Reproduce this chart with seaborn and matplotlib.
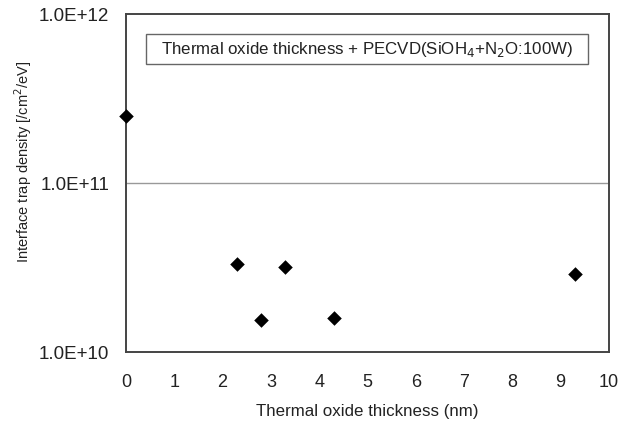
import matplotlib
matplotlib.use("Agg")
import matplotlib.pyplot as plt
import seaborn as sns
import pandas as pd
from matplotlib.patches import Rectangle
from matplotlib.ticker import FixedLocator, FixedFormatter, NullLocator

thickness = [0.0, 2.3, 2.8, 3.3, 4.3, 9.3]
dit = [2.5e11, 3.3e10, 1.55e10, 3.2e10, 1.6e10, 2.9e10]
y_ticks = [1e10, 1e11, 1e12]
y_labels = ["1.0E+10", "1.0E+11", "1.0E+12"]
x_ticks = list(range(0, 11))
x_labels = [str(v) for v in x_ticks]

sns.set_theme(style="white")
plt.rcParams['font.family'] = ['Liberation Sans', 'DejaVu Sans']

df = pd.DataFrame({"t": thickness, "d": dit})

fig = plt.figure(figsize=(6.26, 4.23), dpi=100)
ax = fig.add_axes([0.2013, 0.1678, 0.7715, 0.7991])

sns.scatterplot(data=df, x="t", y="d", marker="D", color="black", s=55,
                edgecolor="black", linewidth=0, ax=ax, clip_on=False, zorder=5)

ax.set_yscale("log")
ax.set_ylim(1e10, 1e12)
ax.set_xlim(0, 10)
ax.yaxis.set_major_locator(FixedLocator(y_ticks))
ax.yaxis.set_major_formatter(FixedFormatter(y_labels))
ax.yaxis.set_minor_locator(NullLocator())
ax.xaxis.set_major_locator(FixedLocator(x_ticks))
ax.xaxis.set_major_formatter(FixedFormatter(x_labels))

ax.axhline(1e11, color="#999999", lw=1.0, zorder=1)

for s in ax.spines.values():
    s.set_visible(True)
    s.set_color("#444444")
    s.set_linewidth(1.4)

ax.tick_params(axis="x", direction="in", length=4, width=1, color="#777777",
               labelsize=13, pad=16, labelcolor="#222222")
ax.tick_params(axis="y", length=0, labelsize=13.5, pad=12, labelcolor="#222222")

ax.set_xlabel("Thermal oxide thickness (nm)", fontsize=12.2, labelpad=9, color="#222222")
ax.set_ylabel("Interface trap density [/cm$^2$/eV]", fontsize=10.5, labelpad=8, color="#222222")
ax.yaxis.set_label_coords(-0.19, 0.562)

ax.add_patch(Rectangle((0.0414, 0.852), 0.915, 0.0888, transform=ax.transAxes,
                       facecolor="white", edgecolor="#666666", lw=1, zorder=3))
ax.text(0.499, 0.896, "Thermal oxide thickness + PECVD(SiOH$_4$+N$_2$O:100W)",
        transform=ax.transAxes, ha="center", va="center", fontsize=12.2, color="#222222",
        zorder=4)

fig.savefig("out.png", dpi=100)
